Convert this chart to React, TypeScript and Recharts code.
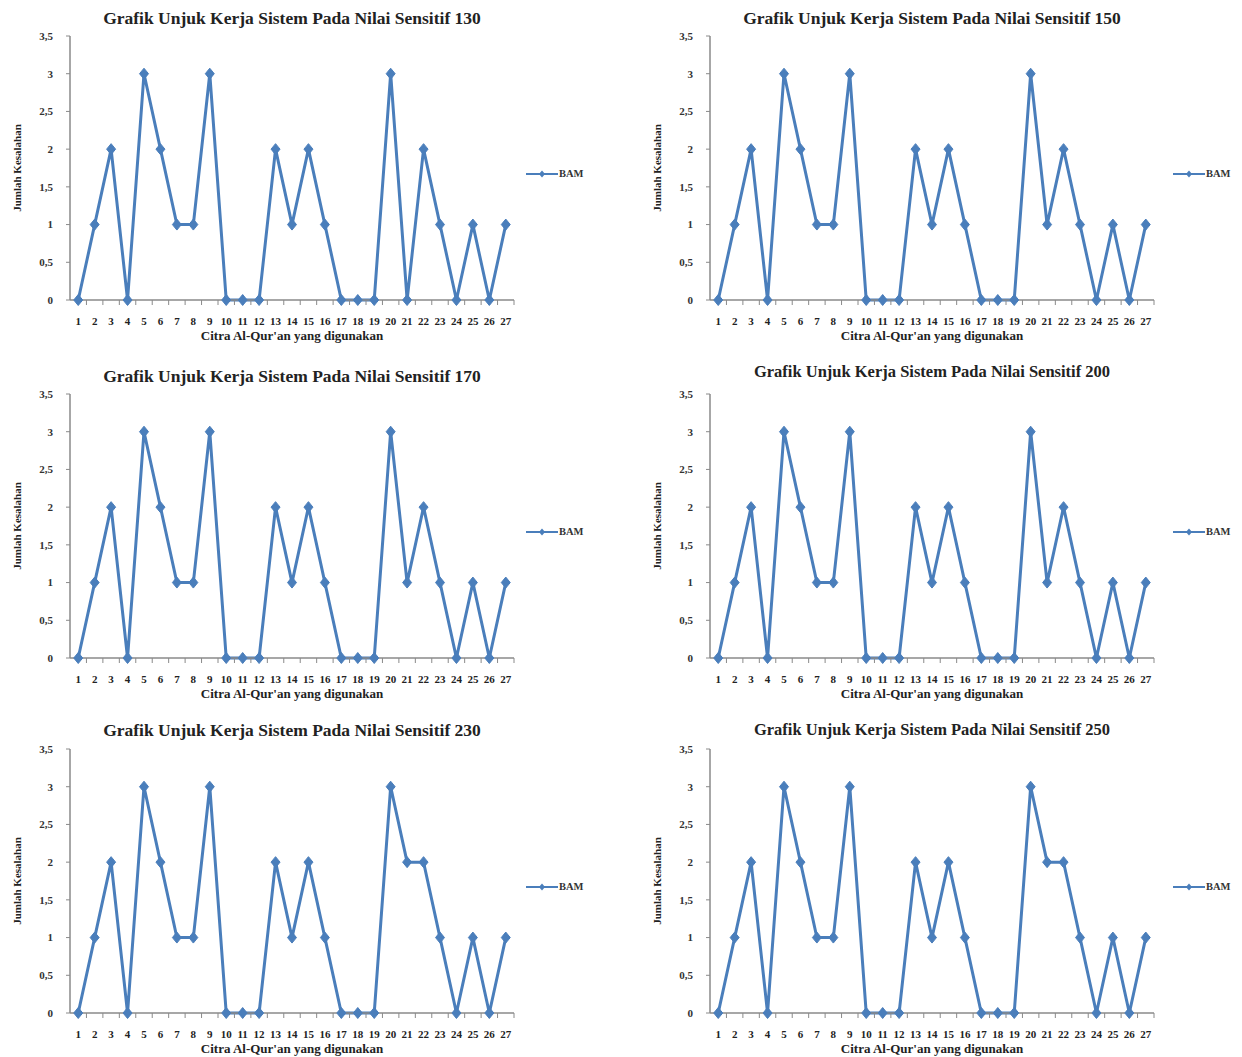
import React from 'react';
import { LineChart, Line, XAxis, YAxis, Legend } from 'recharts';

const categories = ['1','2','3','4','5','6','7','8','9','10','11','12','13','14','15','16','17','18','19','20','21','22','23','24','25','26','27'];
const sensitivities = [130, 150, 170, 200, 230, 250];
const bam130 = [0,1,2,0,3,2,1,1,3,0,0,0,2,1,2,1,0,0,0,3,0,2,1,0,1,0,1];
const bam150 = [0,1,2,0,3,2,1,1,3,0,0,0,2,1,2,1,0,0,0,3,1,2,1,0,1,0,1];
const bam170 = [0,1,2,0,3,2,1,1,3,0,0,0,2,1,2,1,0,0,0,3,1,2,1,0,1,0,1];
const bam200 = [0,1,2,0,3,2,1,1,3,0,0,0,2,1,2,1,0,0,0,3,1,2,1,0,1,0,1];
const bam230 = [0,1,2,0,3,2,1,1,3,0,0,0,2,1,2,1,0,0,0,3,2,2,1,0,1,0,1];
const bam250 = [0,1,2,0,3,2,1,1,3,0,0,0,2,1,2,1,0,0,0,3,2,2,1,0,1,0,1];
const yTicks = [0, 0.5, 1, 1.5, 2, 2.5, 3, 3.5];
const yTickLabels = ['0', '0,5', '1', '1,5', '2', '2,5', '3', '3,5'];
const titlePrefix = 'Grafik Unjuk Kerja Sistem Pada Nilai Sensitif';
const xAxisTitle = "Citra Al-Qur'an yang digunakan";
const yAxisTitle = 'Jumlah Kesalahan';
const seriesName = 'BAM';

const allSeries = [bam130, bam150, bam170, bam200, bam230, bam250];

const BLUE = '#4A7EBB';
const AXIS = '#8a8a8a';
const FONT = '"Liberation Serif", "Times New Roman", serif';

const W = 620;
const H = 355;
const Y_W = 70;
const M_RIGHT = 106;
const M_TOP = 36;
const PLOT_W = W - Y_W - M_RIGHT;
const BAND = PLOT_W / categories.length;

const layout = [
  { left: 0, top: 0, titleY: 18, titleSize: 17.5 },
  { left: 640, top: 0, titleY: 18, titleSize: 17.5 },
  { left: 0, top: 358, titleY: 18, titleSize: 17.5 },
  { left: 640, top: 358, titleY: 14, titleSize: 16.5 },
  { left: 0, top: 713, titleY: 17, titleSize: 17.5 },
  { left: 640, top: 713, titleY: 17, titleSize: 16.5 },
];

const Diamond = (props: any) => {
  const { cx, cy } = props;
  if (cx == null || cy == null) return null;
  return (
    <path
      d={`M${cx},${cy - 5.5} L${cx + 4.5},${cy} L${cx},${cy + 5.5} L${cx - 4.5},${cy} Z`}
      fill={BLUE}
      stroke={BLUE}
      strokeWidth={1}
    />
  );
};

const XTick = (props: any) => {
  const { x, y, payload } = props;
  return (
    <g>
      <line x1={x + BAND / 2} x2={x + BAND / 2} y1={y} y2={y + 5} stroke={AXIS} strokeWidth={1} />
      <text x={x} y={y + 25} textAnchor="middle" fontFamily={FONT} fontSize={11} fontWeight="bold" fill="#222">
        {payload.value}
      </text>
    </g>
  );
};

const LegendContent = () => (
  <div style={{ position: 'absolute', left: 0, top: 0, display: 'flex', alignItems: 'center', whiteSpace: 'nowrap' }}>
    <svg width={32} height={10} style={{ display: 'block' }}>
      <line x1={0} x2={32} y1={5} y2={5} stroke={BLUE} strokeWidth={2} />
      <path d="M16,1.5 L19,5 L16,8.5 L13,5 Z" fill={BLUE} />
    </svg>
    <span style={{ fontFamily: FONT, fontSize: 10.5, fontWeight: 'bold', color: '#333', marginLeft: 1 }}>{seriesName}</span>
  </div>
);

const YLabel = () => (
  <text
    x={0}
    y={0}
    transform={`translate(21, ${M_TOP + 132}) rotate(-90)`}
    textAnchor="middle"
    fontFamily={FONT}
    fontSize={11}
    fontWeight="bold"
    fill="#222"
  >
    {yAxisTitle}
  </text>
);

const Panel = ({ idx }: { idx: number }) => {
  const values = allSeries[idx];
  const data = categories.map((c, i) => ({ name: c, value: values[i] }));
  const pos = layout[idx];
  return (
    <div style={{ position: 'absolute', left: pos.left, top: pos.top, width: W, height: H, background: '#fff' }}>
      <div
        style={{
          position: 'absolute',
          left: Y_W - 60,
          width: PLOT_W + 120,
          top: pos.titleY - 10,
          textAlign: 'center',
          fontFamily: FONT,
          fontWeight: 'bold',
          fontSize: pos.titleSize,
          lineHeight: '20px',
          color: '#222',
          zIndex: 2,
        }}
      >
        {`${titlePrefix} ${sensitivities[idx]}`}
      </div>
      <LineChart width={W} height={H} data={data} margin={{ top: M_TOP, right: M_RIGHT, bottom: 25, left: 0 }}>
        <XAxis
          dataKey="name"
          interval={0}
          height={30}
          padding={{ left: BAND / 2, right: BAND / 2 }}
          axisLine={{ stroke: AXIS, strokeWidth: 1.5 }}
          tickLine={false}
          tickSize={0}
          tickMargin={0}
          tick={<XTick />}
          label={{
            value: xAxisTitle,
            position: 'insideBottom',
            offset: -10,
            style: { fontFamily: FONT, fontSize: 13, fontWeight: 'bold', fill: '#222' },
          }}
        />
        <YAxis
          width={Y_W}
          domain={[0, 3.5]}
          ticks={yTicks}
          interval={0}
          axisLine={{ stroke: AXIS, strokeWidth: 1.5 }}
          tickLine={{ stroke: AXIS }}
          tickSize={4}
          tickMargin={13}
          tick={{ fontFamily: FONT, fontSize: 11, fontWeight: 'bold', fill: '#333' }}
          tickFormatter={(v: number) => yTickLabels[yTicks.indexOf(v)] ?? String(v)}
          label={{ content: () => <YLabel /> }}
        />
        <Legend
          layout="vertical"
          align="right"
          verticalAlign="middle"
          content={() => <LegendContent />}
          wrapperStyle={{ left: idx % 2 === 0 ? 526 : 533, top: 168, width: 0, height: 0 }}
        />
        <Line
          type="linear"
          dataKey="value"
          name={seriesName}
          stroke={BLUE}
          strokeWidth={3}
          dot={<Diamond />}
          activeDot={false}
          isAnimationActive={false}
        />
      </LineChart>
    </div>
  );
}

export default function App() {
  return (
    <div style={{ position: 'absolute', left: 0, top: 0, width: 1242, height: 1057, background: '#fff' }}>
      {sensitivities.map((s, i) => (
        <Panel key={s} idx={i} />
      ))}
    </div>
  );
}
